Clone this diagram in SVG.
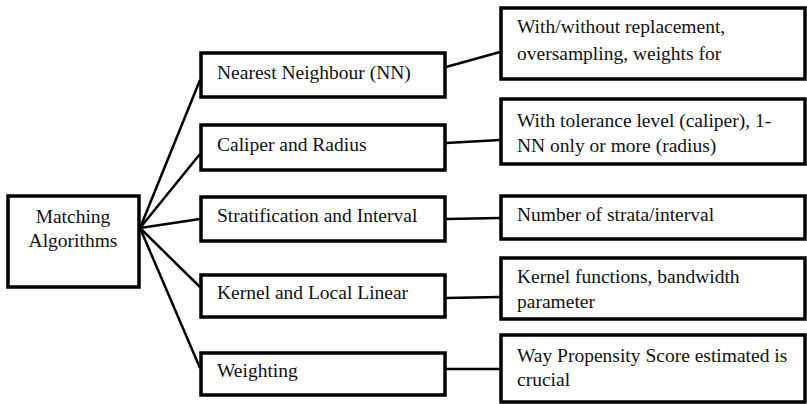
<svg xmlns="http://www.w3.org/2000/svg" width="807" height="404" viewBox="0 0 807 404">
<style>
.box{fill:#fff;stroke:#000;stroke-width:3.5}
.t{font-family:'Liberation Serif','DejaVu Serif',serif;font-size:19.5px;fill:#111}
.c{stroke:#000;stroke-width:2.5;fill:none}
</style>
<rect width="807" height="404" fill="#fff"/>
<g id="connectors">
<line class="c" x1="140" y1="228" x2="200" y2="80"/>
<line class="c" x1="140" y1="228" x2="200" y2="154"/>
<line class="c" x1="140" y1="228" x2="200" y2="219"/>
<line class="c" x1="140" y1="228" x2="200" y2="287"/>
<line class="c" x1="140" y1="228" x2="200" y2="368"/>
<line class="c" x1="446" y1="67" x2="500" y2="52"/>
<line class="c" x1="446" y1="143" x2="500" y2="140"/>
<line class="c" x1="446" y1="219" x2="500" y2="218"/>
<line class="c" x1="446" y1="298" x2="500" y2="297"/>
<line class="c" x1="446" y1="369" x2="500" y2="369"/>
</g>
<g id="matching">
<rect class="box" x="8" y="196" width="131" height="91"/>
<text class="t" x="73" y="223" text-anchor="middle" font-family="Liberation Serif, serif">Matching</text>
<text class="t" x="73" y="247" text-anchor="middle" font-family="Liberation Serif, serif">Algorithms</text>
</g>
<g id="nn">
<rect class="box" x="201" y="53" width="244" height="44"/>
<text class="t" x="217" y="79">Nearest Neighbour (NN)</text>
</g>
<g id="caliper">
<rect class="box" x="201" y="125" width="244" height="45"/>
<text class="t" x="217" y="151">Caliper and Radius</text>
</g>
<g id="strat">
<rect class="box" x="201" y="197" width="244" height="44"/>
<text class="t" x="217" y="222">Stratification and Interval</text>
</g>
<g id="kernel">
<rect class="box" x="201" y="275" width="244" height="42"/>
<text class="t" x="217" y="299">Kernel and Local Linear</text>
</g>
<g id="weighting">
<rect class="box" x="201" y="353" width="244" height="42"/>
<text class="t" x="217" y="377">Weighting</text>
</g>
<g id="nn-detail">
<rect class="box" x="501" y="8" width="304" height="71"/>
<text class="t" x="517" y="33">With/without replacement,</text>
<text class="t" x="517" y="60">oversampling, weights for</text>
</g>
<g id="caliper-detail">
<rect class="box" x="501" y="99" width="304" height="65"/>
<text class="t" x="517" y="127">With tolerance level (caliper), 1-</text>
<text class="t" x="517" y="152">NN only or more (radius)</text>
</g>
<g id="strat-detail">
<rect class="box" x="501" y="196" width="304" height="43"/>
<text class="t" x="517" y="221">Number of strata/interval</text>
</g>
<g id="kernel-detail">
<rect class="box" x="501" y="258" width="304" height="61"/>
<text class="t" x="517" y="283">Kernel functions, bandwidth</text>
<text class="t" x="517" y="308">parameter</text>
</g>
<g id="weighting-detail">
<rect class="box" x="501" y="335" width="304" height="67"/>
<text class="t" x="517" y="362">Way Propensity Score estimated is</text>
<text class="t" x="517" y="386">crucial</text>
</g>
</svg>
